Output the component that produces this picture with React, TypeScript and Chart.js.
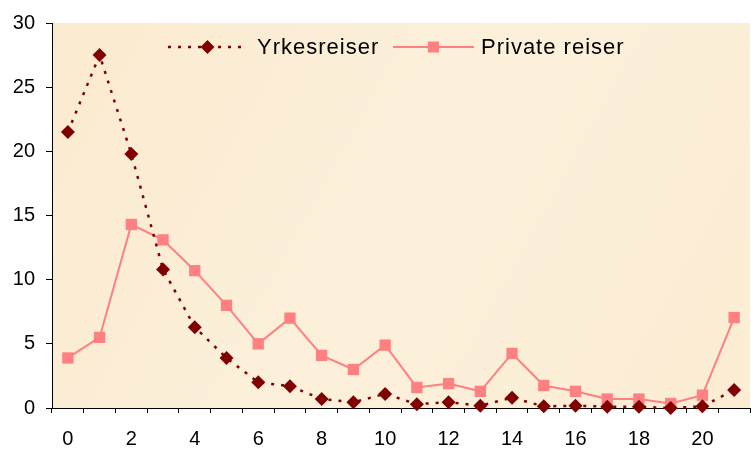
import React, { useEffect, useRef } from "react";
import { Chart, registerables } from "chart.js";

Chart.register(...registerables);

const categories = ["0","1","2","3","4","5","6","7","8","9","10","11","12","13","14","15","16","17","18","19","20","21"];
const yrkesreiser = [21.5, 27.5, 19.8, 10.8, 6.3, 3.9, 2.0, 1.7, 0.7, 0.45, 1.1, 0.3, 0.45, 0.18, 0.8, 0.13, 0.18, 0.1, 0.1, 0.0, 0.13, 1.4];
const privateReiser = [3.9, 5.5, 14.3, 13.1, 10.7, 8.0, 5.0, 7.0, 4.1, 3.0, 4.9, 1.6, 1.9, 1.3, 4.25, 1.75, 1.3, 0.7, 0.7, 0.35, 1.0, 7.05];
const seriesNames = ["Yrkesreiser", "Private reiser"];

const FONT = "'Liberation Sans', Arial, sans-serif";
const YRK_COLOR = "#800000";
const PRIV_COLOR = "#FF8080";

const bgPlugin = {
  id: "plotBg",
  beforeDraw(chart: any) {
    const { ctx, chartArea } = chart;
    if (!chartArea) return;
    ctx.save();
    const g = ctx.createLinearGradient(chartArea.left, chartArea.top, chartArea.right, chartArea.bottom);
    g.addColorStop(0, "#FAEACF");
    g.addColorStop(0.5, "#FCF0DB");
    g.addColorStop(1, "#FBECD3");
    ctx.fillStyle = g;
    ctx.fillRect(chartArea.left, chartArea.top, chartArea.right - chartArea.left, chartArea.bottom - chartArea.top);
    ctx.restore();
  },
};

const legendPlugin = {
  id: "customLegend",
  afterDraw(chart: any) {
    const { ctx, chartArea } = chart;
    const y = chartArea.top + 24;
    const items = [
      { x0: 168, x1: 247, tx: 257, ds: chart.data.datasets[0] },
      { x0: 393, x1: 474, tx: 481, ds: chart.data.datasets[1] },
    ];
    ctx.save();
    for (const it of items) {
      ctx.beginPath();
      ctx.strokeStyle = it.ds.borderColor;
      ctx.lineWidth = it.ds.borderWidth;
      ctx.setLineDash(it.ds.borderDash || []);
      ctx.moveTo(it.x0, y);
      ctx.lineTo(it.x1, y);
      ctx.stroke();
      ctx.setLineDash([]);
      const cx = (it.x0 + it.x1) / 2;
      ctx.fillStyle = it.ds.pointBackgroundColor;
      ctx.beginPath();
      if (it.ds.pointStyle === "rectRot") {
        const r = 7;
        ctx.moveTo(cx - r, y);
        ctx.lineTo(cx, y - r);
        ctx.lineTo(cx + r, y);
        ctx.lineTo(cx, y + r);
        ctx.closePath();
      } else {
        const h = 5.5;
        ctx.rect(cx - h, y - h, 2 * h, 2 * h);
      }
      ctx.fill();
      ctx.fillStyle = "#000";
      ctx.font = `22px ${FONT}`;
      (ctx as any).letterSpacing = "1px";
      ctx.textBaseline = "middle";
      ctx.textAlign = "left";
      ctx.fillText(it.ds.label, it.tx, y + 1);
    }
    ctx.restore();
  },
};

export default function App() {
  const ref = useRef<HTMLCanvasElement | null>(null);
  useEffect(() => {
    if (!ref.current) return;
    const chart = new Chart(ref.current, {
      type: "line",
      data: {
        labels: categories,
        datasets: [
          {
            label: seriesNames[0],
            data: yrkesreiser,
            borderColor: YRK_COLOR,
            backgroundColor: YRK_COLOR,
            borderWidth: 2.5,
            borderDash: [3, 7],
            pointStyle: "rectRot",
            pointRadius: 7,
            pointBackgroundColor: YRK_COLOR,
            pointBorderColor: YRK_COLOR,
            pointBorderWidth: 0,
            tension: 0,
            clip: false,
          } as any,
          {
            label: seriesNames[1],
            data: privateReiser,
            borderColor: PRIV_COLOR,
            backgroundColor: PRIV_COLOR,
            borderWidth: 2,
            pointStyle: "rect",
            pointRadius: 8,
            pointBackgroundColor: PRIV_COLOR,
            pointBorderColor: PRIV_COLOR,
            pointBorderWidth: 0,
            tension: 0,
            clip: false,
          } as any,
        ],
      },
      options: {
        animation: false,
        responsive: true,
        maintainAspectRatio: false,
        layout: { padding: { top: 21, left: 0, right: 1, bottom: 0 } },
        plugins: { legend: { display: false }, tooltip: { enabled: false } },
        scales: {
          x: {
            type: "category",
            offset: true,
            grid: { offset: true, drawOnChartArea: false, tickLength: 5, color: "#000", lineWidth: 1 },
            border: { color: "#000", width: 1 },
            ticks: {
              autoSkip: false,
              maxRotation: 0,
              padding: 14,
              color: "#000",
              font: { family: FONT, size: 20 },
              callback: (_v: any, i: number) => (i % 2 === 0 ? categories[i] : ""),
            },
            afterFit: (s: any) => { s.height = 42; },
          },
          y: {
            min: 0,
            max: 30,
            grid: { drawOnChartArea: false, tickLength: 6, color: "#000", lineWidth: 1 },
            border: { color: "#000", width: 1 },
            ticks: {
              stepSize: 5,
              padding: 11,
              color: "#000",
              font: { family: FONT, size: 20 },
            },
            afterFit: (s: any) => { s.width = 52; },
          },
        },
      },
      plugins: [bgPlugin, legendPlugin],
    });
    return () => chart.destroy();
  }, []);

  return (
    <div style={{ position: "absolute", left: 0, top: 0, width: 751, height: 450, overflow: "hidden", background: "#fff" }}>
      <div style={{ position: "relative", width: 758, height: 450 }}>
        <canvas ref={ref} />
      </div>
    </div>
  );
}
